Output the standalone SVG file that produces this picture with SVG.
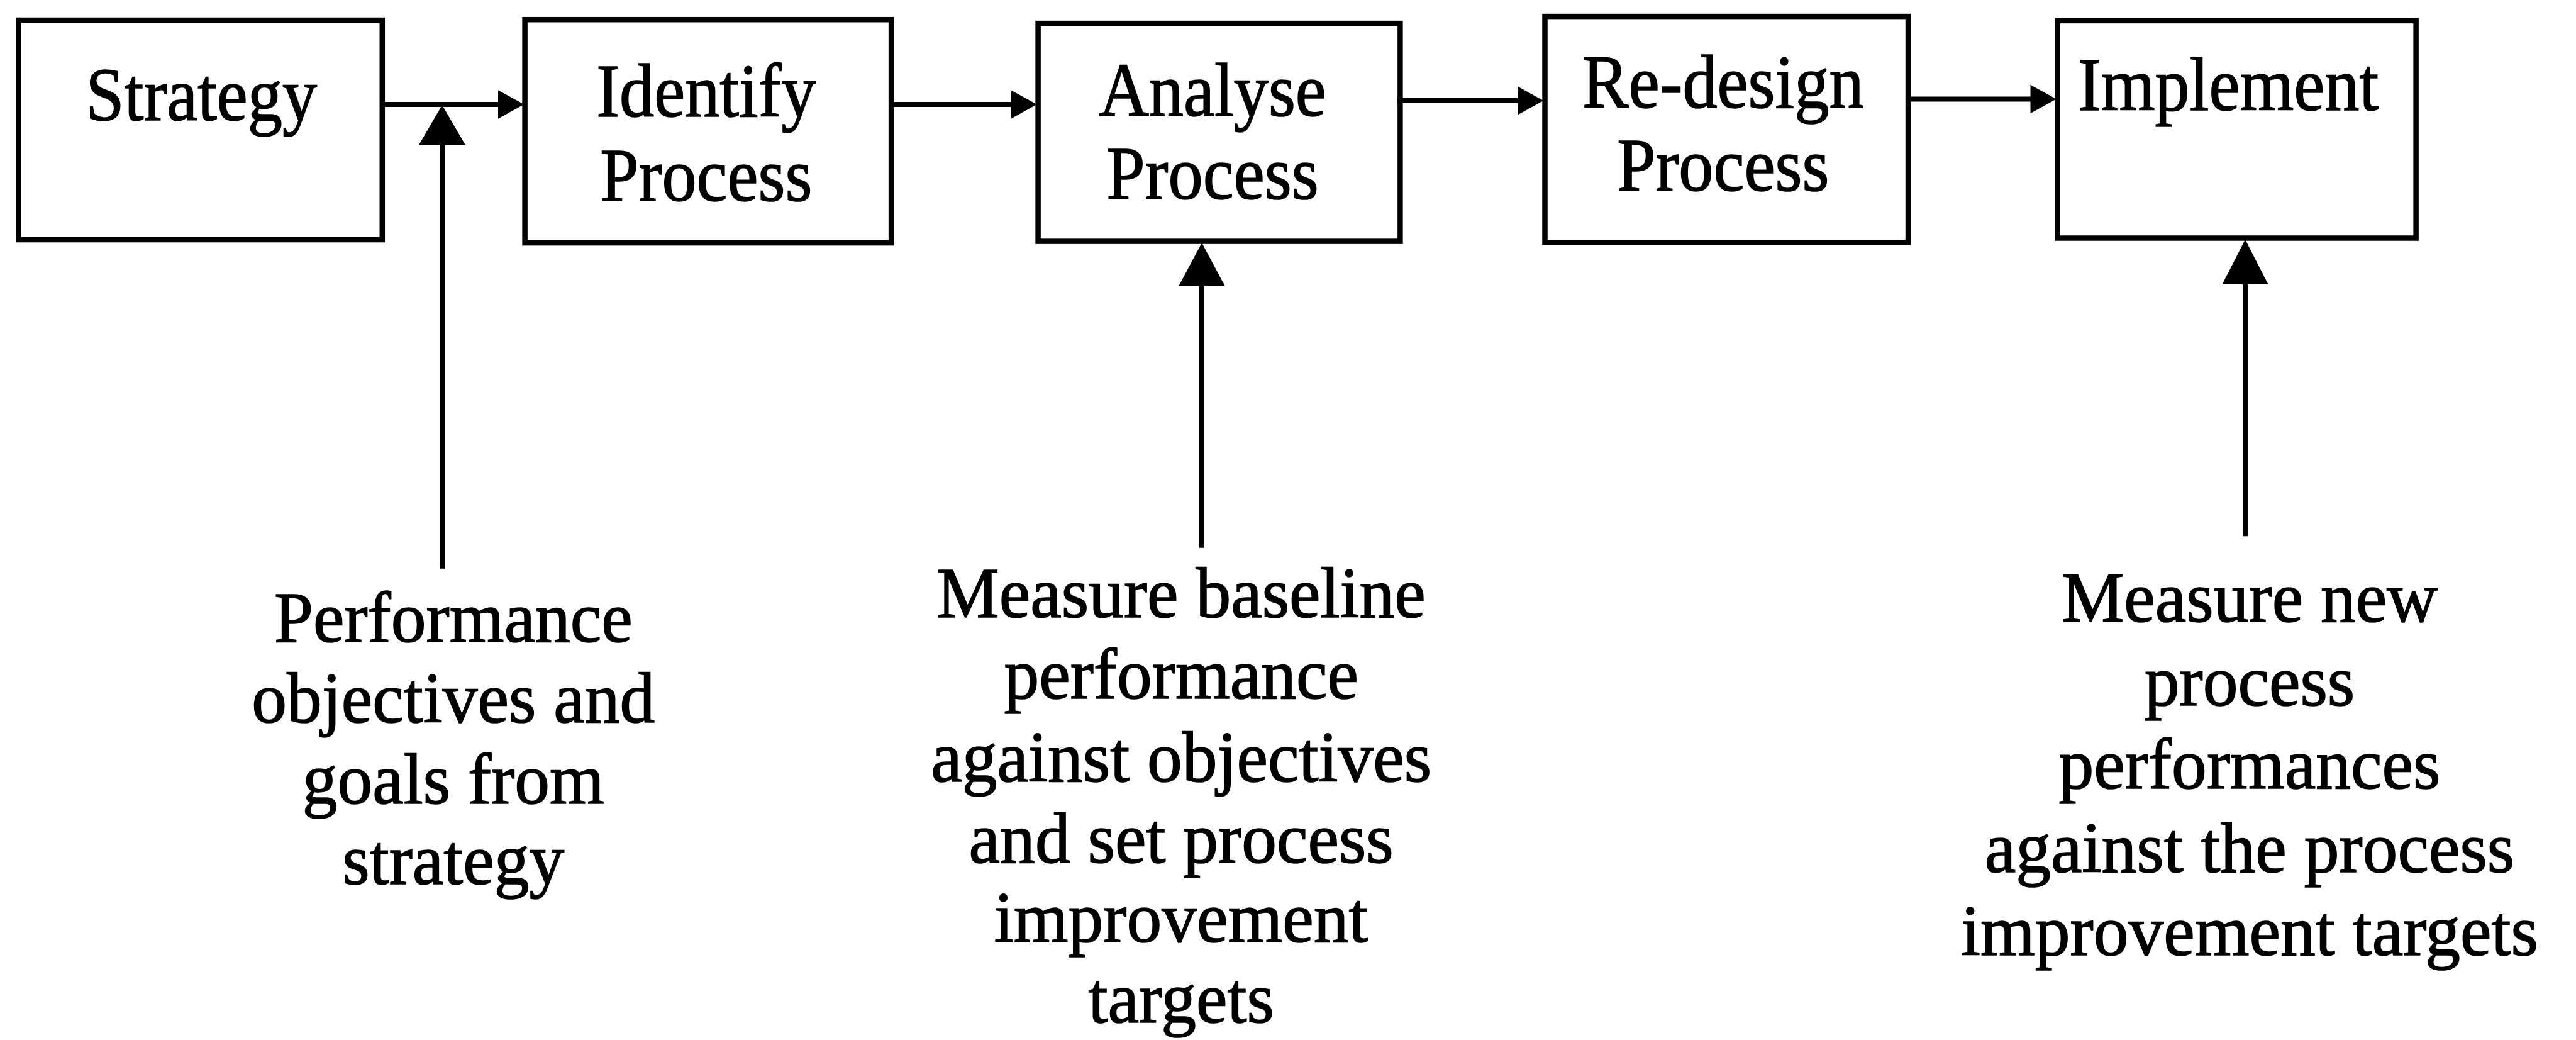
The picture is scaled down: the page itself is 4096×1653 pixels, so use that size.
<svg xmlns="http://www.w3.org/2000/svg" width="4096" height="1653" viewBox="0 0 4096 1653">
  <style>
    .box { fill: #ffffff; stroke: #000000; stroke-width: 8.5; }
    .line { fill: none; stroke: #000000; stroke-width: 8; }
    .head { fill: #000000; stroke: #000000; stroke-width: 2; stroke-linejoin: miter; }
    .t { font-family: "Liberation Serif", "Times New Roman", serif; fill: #000000; stroke: #000000; stroke-width: 1.6; text-anchor: middle; }
    .bt { font-size: 120px; }
    .lt { font-size: 115px; }
  </style>
  <rect width="4096" height="1653" fill="#ffffff"/>

  <!-- process steps -->
  <g id="strategy">
    <rect class="box" x="29.5" y="32" width="578.3" height="349"/>
    <g transform="translate(320.3 0) scale(0.92 1)">
      <text class="t bt" x="0" y="191.4">Strategy</text>
    </g>
  </g>
  <g id="identify-process">
    <rect class="box" x="834.6" y="31.2" width="582.5" height="354.9"/>
    <g transform="translate(1122.9 0) scale(0.92 1)">
      <text class="t bt" x="0" y="185.5">Identify</text>
      <text class="t bt" x="0" y="318.7">Process</text>
    </g>
  </g>
  <g id="analyse-process">
    <rect class="box" x="1650.6" y="37.1" width="575.8" height="346.5"/>
    <g transform="translate(1928 0) scale(0.92 1)">
      <text class="t bt" x="0" y="183.8">Analyse</text>
      <text class="t bt" x="0" y="316.1">Process</text>
    </g>
  </g>
  <g id="redesign-process">
    <rect class="box" x="2456.5" y="26.1" width="577.5" height="359.2"/>
    <g transform="translate(2739.8 0) scale(0.92 1)">
      <text class="t bt" x="0" y="171.1">Re-design</text>
      <text class="t bt" x="0" y="303.5">Process</text>
    </g>
  </g>
  <g id="implement">
    <rect class="box" x="3271.7" y="32.9" width="569.9" height="345.6"/>
    <g transform="translate(3543 0) scale(0.92 1)">
      <text class="t bt" x="0" y="175.3">Implement</text>
    </g>
  </g>

  <!-- measurement inputs -->
  <g id="performance-objectives">
    <g transform="translate(720.8 0) scale(0.97 1)">
      <text class="t lt" x="0" y="1020">Performance</text>
      <text class="t lt" x="0" y="1148.5">objectives and</text>
      <text class="t lt" x="0" y="1277">goals from</text>
      <text class="t lt" x="0" y="1405.5">strategy</text>
    </g>
  </g>
  <g id="measure-baseline">
    <g transform="translate(1878.2 0) scale(0.97 1)">
      <text class="t lt" x="0" y="981.3">Measure baseline</text>
      <text class="t lt" x="0" y="1110.2">performance</text>
      <text class="t lt" x="0" y="1241.7">against objectives</text>
      <text class="t lt" x="0" y="1370.7">and set process</text>
      <text class="t lt" x="0" y="1497.2">improvement</text>
      <text class="t lt" x="0" y="1625">targets</text>
    </g>
  </g>
  <g id="measure-new">
    <g transform="translate(3577 0) scale(0.97 1)">
      <text class="t lt" x="0" y="988">Measure new</text>
      <text class="t lt" x="0" y="1120.6">process</text>
      <text class="t lt" x="0" y="1253.2">performances</text>
      <text class="t lt" x="0" y="1385.8">against the process</text>
      <text class="t lt" x="0" y="1518.4">improvement targets</text>
    </g>
  </g>

  <!-- connectors -->
  <g id="connectors">
    <line class="line" x1="604" y1="166" x2="800" y2="166"/>
    <polygon class="head" points="831,166 793,145 793,187"/>

    <line class="line" x1="1413" y1="166" x2="1615" y2="166"/>
    <polygon class="head" points="1646.5,166 1608.5,145 1608.5,187"/>

    <line class="line" x1="2222" y1="160" x2="2420" y2="160"/>
    <polygon class="head" points="2452,160 2414,139 2414,181"/>

    <line class="line" x1="3030" y1="157.5" x2="3236" y2="157.5"/>
    <polygon class="head" points="3267.5,157.5 3229.5,136.5 3229.5,178.5"/>

    <line class="line" x1="703" y1="225" x2="703" y2="903.7"/>
    <polygon class="head" points="703,169 668,229 738,229"/>

    <line class="line" x1="1911" y1="450" x2="1911" y2="870.8"/>
    <polygon class="head" points="1911,388 1876,453.5 1946,453.5"/>

    <line class="line" x1="3570" y1="448" x2="3570" y2="852.3"/>
    <polygon class="head" points="3570,383 3535,451 3605,451"/>
  </g>
</svg>
